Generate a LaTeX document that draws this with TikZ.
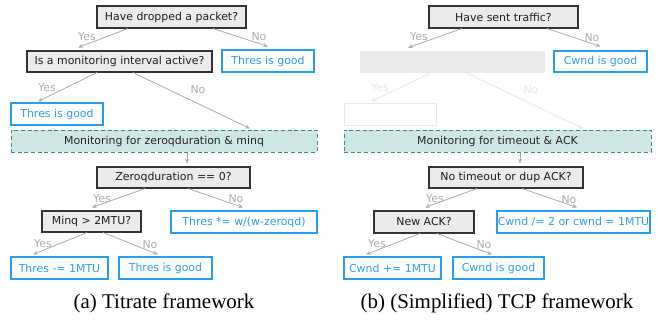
\documentclass[tikz,border=0pt]{standalone}
\usepackage{fontspec}
\setmainfont{Liberation Serif}
\newfontfamily\diagfont{DejaVu Sans}
\usetikzlibrary{calc,arrows.meta}

\definecolor{qfill}{HTML}{EBEBEB}
\definecolor{qline}{HTML}{333333}
\definecolor{ablue}{HTML}{2B9DF0}
\definecolor{mfill}{HTML}{CFE7E2}
\definecolor{mline}{HTML}{3B8783}
\definecolor{eline}{HTML}{ABABAB}
\definecolor{faint}{HTML}{E8E8E8}

\tikzset{
  sz/.style 2 args={minimum width=#1*0.75pt, minimum height=#2*0.75pt},
  base/.style={rectangle, inner sep=0pt, font=\diagfont\fontsize{8.2}{9}\selectfont},
  question/.style={base, draw=qline, fill=qfill, line width=0.8pt, text=black!88},
  action/.style={base, draw=ablue, line width=0.85pt, text=ablue},
  monitor/.style={base, draw=mline, fill=mfill, line width=0.75pt,
                  dash pattern=on 3pt off 2pt, text=black!85},
  hidden/.style={base, fill=qfill},
  ghost/.style={base, draw=faint, line width=0.75pt},
  edge/.style={draw=eline, line width=0.6pt, -{Stealth[length=3.6pt,width=3pt]}},
  fedge/.style={edge, draw=faint},
  lbl/.style={font=\diagfont\fontsize{8.2}{9}\selectfont, text=eline, inner sep=0pt},
  flbl/.style={lbl, text=faint},
  subcaption/.style={font=\fontsize{15.7}{18}\selectfont, inner sep=0pt}
}

\begin{document}
\begin{tikzpicture}[x=0.75pt, y=-0.75pt]
\useasboundingbox (0,0) rectangle (658,322);

% ---------- (a) Titrate framework ----------
\node[question, sz={149}{22}] (a1) at (171.5,17) {Have dropped a packet?};
\node[question, sz={185}{21}] (a2) at (119.5,61.5) {Is a monitoring interval active?};
\node[action, sz={92}{22}]  (a3) at (268,61) {Thres is good};
\node[action, sz={92}{22}]  (a4) at (57,114) {Thres is good};
\node[monitor, sz={306}{22}] (a5) at (164,141) {Monitoring for zeroqduration \& minq};
\node[question, sz={153}{21}] (a6) at (173.5,177.5) {Zeroqduration == 0?};
\node[question, sz={99}{21}] (a7) at (91.5,221.5) {Minq > 2MTU?};
\node[action, sz={146}{22}] (a8) at (244,222) {Thres *= w/(w-zeroqd)};
\node[action, sz={97}{22}]  (a9) at (59.5,268) {Thres -= 1MTU};
\node[action, sz={93}{22}]  (a10) at (165.5,268) {Thres is good};

\draw[edge] ($(a1.south)+(-43.5,0)$) -- ($(a2.north)+(-41.5,-3)$);
\draw[edge] ($(a1.south)+(41.5,0)$) -- ($(a3.north)+(0,-3)$);
\draw[edge] ($(a2.south)+(-22.5,0)$) -- ($(a4.north)+(-19,-1)$);
\draw[edge] ($(a2.south)+(13.5,0)$) -- ($(a5.north)+(86,-1)$);
\draw[edge] ($(a5.south)+(23,0)$) -- ($(a6.north)+(13.5,-3)$);
\draw[edge] ($(a6.south)+(-28.5,0)$) -- ($(a7.north)+(0.5,-3)$);
\draw[edge] ($(a6.south)+(14.5,0)$) -- ($(a8.north)+(-1,-3)$);
\draw[edge] ($(a7.south)+(-4.5,0)$) -- ($(a9.north)+(-26.5,-2)$);
\draw[edge] ($(a7.south)+(11.5,0)$) -- ($(a10.north)+(-7.5,-2)$);

\node[lbl] (ay1) at (87,37) {Yes};
\node[lbl] (an1) at (259,37) {No};
\node[lbl] (ay2) at (47,88) {Yes};
\node[lbl] (an2) at (198,90) {No};
\node[lbl] (ay3) at (102,199) {Yes};
\node[lbl] (an3) at (236,199) {No};
\node[lbl] (ay4) at (43,244) {Yes};
\node[lbl] (an4) at (150,245) {No};

% ---------- (b) simplified TCP framework ----------
\node[question, sz={149}{22}] (b1) at (503.5,17) {Have sent traffic?};
\node[hidden, sz={185}{22}] (b2) at (452.5,62) {};
\node[action, sz={93}{21}]  (b3) at (600.5,61.5) {Cwnd is good};
\node[ghost, sz={92}{22}]   (b4) at (390,114) {};
\node[monitor, sz={307}{22}] (b5) at (497.5,141) {Monitoring for timeout \& ACK};
\node[question, sz={154}{21}] (b6) at (506,177.5) {No timeout or dup ACK?};
\node[question, sz={100}{22}] (b7) at (424,222) {New ACK?};
\node[action, sz={153}{22}] (b8) at (573.5,222) {Cwnd /= 2 or cwnd = 1MTU};
\node[action, sz={97}{22}]  (b9) at (392.5,268) {Cwnd += 1MTU};
\node[action, sz={91}{22}]  (b10) at (498.5,268) {Cwnd is good};

\draw[edge] ($(b1.south)+(-41.5,0)$) -- ($(b2.north)+(-44.5,-3)$);
\draw[edge] ($(b1.south)+(43.5,0)$) -- ($(b3.north)+(0,-4)$);
\draw[fedge] ($(b2.south)+(-22.5,0)$) -- ($(b4.north)+(-19,-1)$);
\draw[fedge] ($(b2.south)+(14.5,0)$) -- ($(b5.north)+(85.5,-1)$);
\draw[edge] ($(b5.south)+(22.5,0)$) -- ($(b6.north)+(14,-3)$);
\draw[edge] ($(b6.south)+(-29,0)$) -- ($(b7.north)+(1,-3)$);
\draw[edge] ($(b6.south)+(16,0)$) -- ($(b8.north)+(3.5,-3)$);
\draw[edge] ($(b7.south)+(-4,0)$) -- ($(b9.north)+(-26.5,-2)$);
\draw[edge] ($(b7.south)+(13,0)$) -- ($(b10.north)+(-6.5,-2)$);

\node[lbl]  (by1) at (419,37) {Yes};
\node[lbl]  (bn1) at (592,38) {No};
\node[flbl] (by2) at (380,88) {Yes};
\node[flbl] (bn2) at (531,90) {No};
\node[lbl]  (by3) at (435,199) {Yes};
\node[lbl]  (bn3) at (569,200) {No};
\node[lbl]  (by4) at (377,244) {Yes};
\node[lbl]  (bn4) at (484,245) {No};

% ---------- captions ----------
\node[subcaption] (capa) at (164,303.5) {(a) Titrate framework};
\node[subcaption] (capb) at (497,303.5) {(b) (Simplified) TCP framework};
\end{tikzpicture}
\end{document}
